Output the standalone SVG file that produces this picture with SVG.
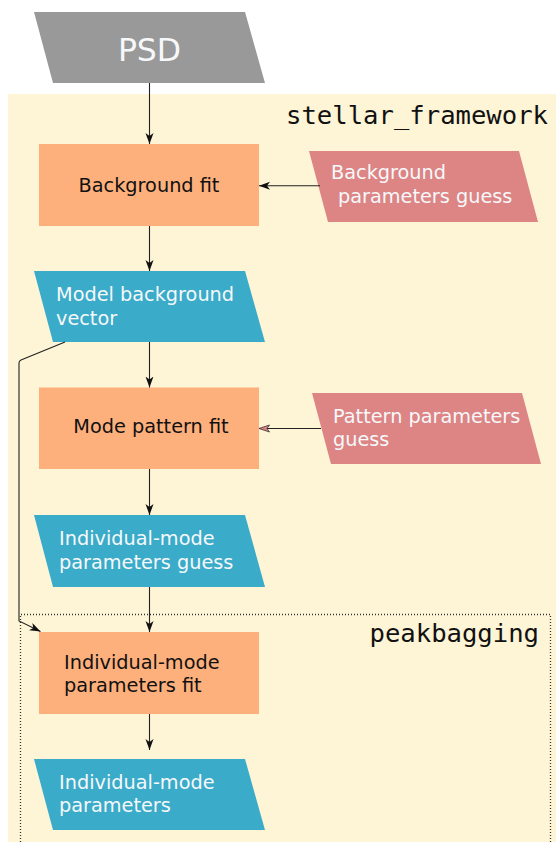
<svg xmlns="http://www.w3.org/2000/svg" width="556" height="842" viewBox="0 0 556 842">
<style>
  .lbl { font-family: "DejaVu Sans", "Liberation Sans", sans-serif; font-size: 19.3px; }
  .wht { fill: #f6f8fa; }
  .blk { fill: #111111; }
  .mono { font-family: "DejaVu Sans Mono", "Liberation Mono", monospace; font-size: 25.6px; fill: #111111; }
  .proc { fill: #feb07c; }
  .data { fill: #3aabc9; }
  .guess { fill: #dd8585; }
  .conn { fill: none; stroke: #222222; stroke-width: 1.1; }
</style>
<defs>
  <marker id="ah" markerUnits="userSpaceOnUse" markerWidth="12" markerHeight="9" refX="11" refY="4" orient="auto">
    <path d="M0,0 L11,4 L0,8 L3,4 z" fill="#111111"/>
  </marker>
  <marker id="ahp" markerUnits="userSpaceOnUse" markerWidth="12" markerHeight="9" refX="11" refY="4" orient="auto">
    <path d="M0.5,0.5 L11,4 L0.5,7.5 L3,4 z" fill="#dd8585" stroke="#333333" stroke-width="0.8"/>
  </marker>
</defs>

<g id="stellar_framework">
  <rect x="8" y="94" width="548" height="748" fill="#fef4d6"/>
  <text class="mono" x="548" y="124" text-anchor="end">stellar_framework</text>
</g>

<g id="peakbagging">
  <path d="M20.5,845 V614.5 H550.5 V845" fill="none" stroke="#333333" stroke-width="1.3" stroke-dasharray="1 2"/>
  <text class="mono" x="539" y="642" text-anchor="end">peakbagging</text>
</g>

<g id="psd">
  <polygon points="34,12 245,12 265,83 53,83" fill="#999999"/>
  <text class="wht" x="149.5" y="61" text-anchor="middle" font-family="DejaVu Sans, sans-serif" font-size="31.5">PSD</text>
</g>

<g id="background_fit">
  <rect class="proc" x="39" y="144" width="220" height="82"/>
  <text class="lbl blk" x="149" y="192" text-anchor="middle">Background fit</text>
</g>

<g id="background_guess">
  <polygon class="guess" points="309,151 519,151 538,222 328,222"/>
  <text class="lbl wht" x="331" y="179">Background</text>
  <text class="lbl wht" x="338" y="203">parameters guess</text>
</g>

<g id="model_background">
  <polygon class="data" points="34,271 245,271 265,342 53,342"/>
  <text class="lbl wht" x="56" y="301">Model background</text>
  <text class="lbl wht" x="56" y="324.5">vector</text>
</g>

<g id="mode_pattern_fit">
  <rect class="proc" x="39" y="387.5" width="220" height="81.5"/>
  <text class="lbl blk" x="151" y="433" text-anchor="middle">Mode pattern fit</text>
</g>

<g id="pattern_guess">
  <polygon class="guess" points="312,393 522,393 541,464 331,464"/>
  <text class="lbl wht" x="333" y="423">Pattern parameters</text>
  <text class="lbl wht" x="333" y="445.5">guess</text>
</g>

<g id="individual_guess">
  <polygon class="data" points="34,515 245,515 265,587 53,587"/>
  <text class="lbl wht" x="59" y="544.5">Individual-mode</text>
  <text class="lbl wht" x="59" y="568.5">parameters guess</text>
</g>

<g id="individual_fit">
  <rect class="proc" x="39" y="632" width="220" height="82"/>
  <text class="lbl blk" x="64" y="668.5">Individual-mode</text>
  <text class="lbl blk" x="64" y="692">parameters fit</text>
</g>

<g id="individual_params">
  <polygon class="data" points="34,759 245,759 265,830 53,830"/>
  <text class="lbl wht" x="59" y="788.5">Individual-mode</text>
  <text class="lbl wht" x="59" y="812">parameters</text>
</g>

<g id="connectors">
  <path class="conn" d="M149.5,83 V144" marker-end="url(#ah)"/>
  <path class="conn" d="M320,185.7 H259" marker-end="url(#ah)"/>
  <path class="conn" d="M149.5,226 V271" marker-end="url(#ah)"/>
  <path class="conn" d="M149.5,342 V387.5" marker-end="url(#ah)"/>
  <path class="conn" d="M321,428.5 H259" marker-end="url(#ahp)"/>
  <path class="conn" d="M149.5,469 V515" marker-end="url(#ah)"/>
  <path class="conn" d="M149.5,587 V632" marker-end="url(#ah)"/>
  <path class="conn" d="M149.5,714 V750" marker-end="url(#ah)"/>
  <path class="conn" d="M65,342 L21,360 Q19,361 19,363 V621 L40.5,631.5" stroke="#444444" marker-end="url(#ah)"/>
</g>
</svg>
